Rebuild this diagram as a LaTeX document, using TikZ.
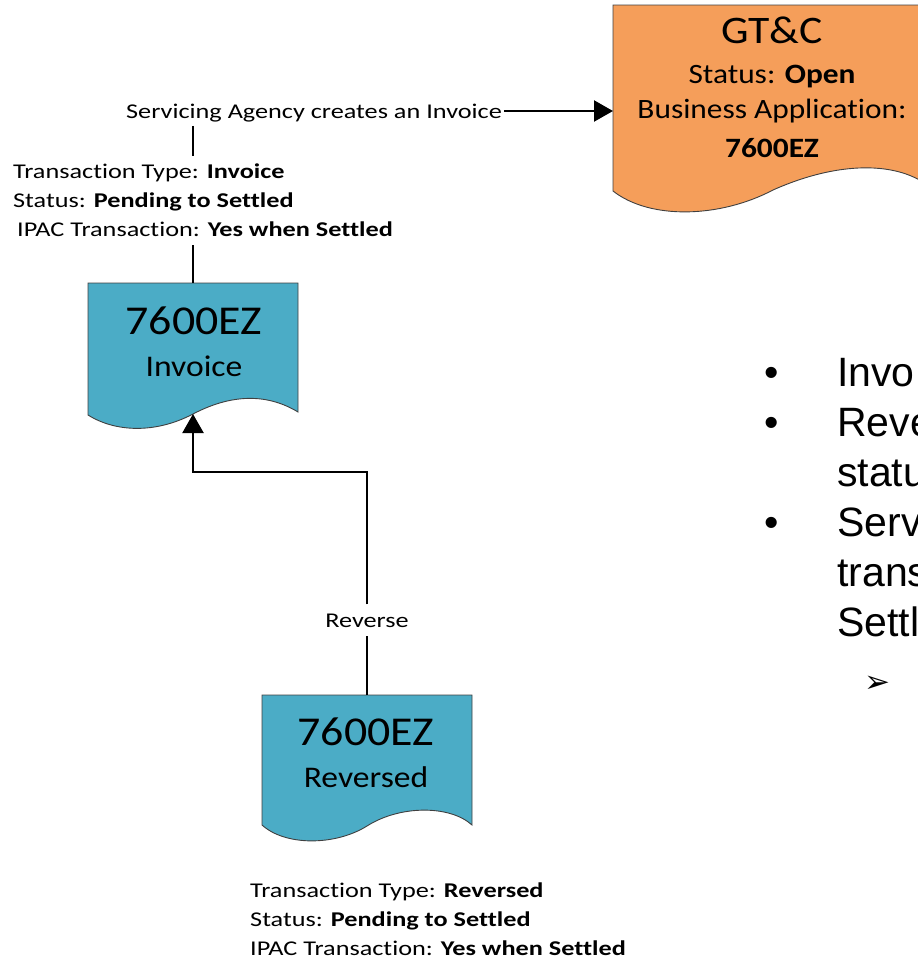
\documentclass[tikz,border=0pt]{standalone}
\usepackage{fontspec}
\setmainfont{Carlito}
\newfontfamily\labelfont[FakeStretch=1.25, Ligatures=NoCommon]{Carlito}
\newfontfamily\boxfont[FakeStretch=1.12, Ligatures=NoCommon]{Carlito}
\newfontfamily\bulletfont{Liberation Sans}
\newfontfamily\symfont{DejaVu Sans}
\usetikzlibrary{arrows.meta}

\definecolor{docorange}{HTML}{F59E5A}
\definecolor{docblue}{HTML}{4BACC6}

\tikzset{
  docshape/.style={draw=black!75, line width=0.9pt},
  flowline/.style={line width=2.2pt, black},
  tiphead/.style={-{Triangle[width=21pt,length=19pt]}},
  smalltext/.style={font=\labelfont\fontsize{21}{29}\selectfont, inner xsep=2pt, inner ysep=4pt},
  infotext/.style={font=\labelfont\fontsize{21}{29}\selectfont, align=left, inner xsep=0pt, inner ysep=8pt, anchor=north west},
  bigcode/.style={font=\boxfont\fontsize{41}{48}\selectfont, inner sep=0pt, anchor=base},
  boxsub/.style={font=\boxfont\fontsize{30}{36}\selectfont, inner sep=0pt, anchor=base},
  gtctitle/.style={font=\boxfont\fontsize{39}{46}\selectfont, inner sep=0pt, anchor=base},
  gtcline/.style={font=\boxfont\fontsize{28}{34}\selectfont, inner sep=0pt, anchor=base},
  bullettext/.style={font=\bulletfont\fontsize{41}{49}\selectfont, inner sep=0pt, anchor=base west},
  bulletdot/.style={font=\bulletfont\fontsize{41}{49}\selectfont, inner sep=0pt, anchor=base},
}

\begin{document}
\begin{tikzpicture}[x=1pt, y=-1pt]
\useasboundingbox (0,0) rectangle (918,964);
\clip (0,0) rectangle (918,964);

% GT&C document shape (runs past the right edge)
\path[docshape, fill=docorange]
  (613,5) -- (933,5) -- (933,190)
  .. controls (905,163) and (845,158) .. (773,190)
  .. controls (720,218) and (650,220) .. (613,191) -- cycle;
\node[gtctitle] (gtcT) at (772,43) {GT\&C};
\node[gtcline] (gtcS) at (772,83) {Status: \textbf{Open}};
\node[gtcline] (gtcB) at (772,118) {Business Application:};
\node[gtcline] (gtcC) at (772,157) {\textbf{7600EZ}};
\coordinate (gtcL) at (613,111);

% 7600EZ Invoice document shape
\path[docshape, fill=docblue]
  (88,283) -- (298,283) -- (298,412)
  .. controls (270,395) and (235,392) .. (193,414)
  .. controls (155,434) and (115,432) .. (88,415) -- cycle;
\node[bigcode] (invT) at (194,334) {7600EZ};
\node[boxsub] (invS) at (194,376) {Invoice};
\coordinate (invTop) at (193,283);
\coordinate (invBot) at (193,414);

% 7600EZ Reversed document shape
\path[docshape, fill=docblue]
  (262,695) -- (472,695) -- (472,825)
  .. controls (450,805) and (400,805) .. (367,826)
  .. controls (335,846) and (285,846) .. (262,825) -- cycle;
\node[bigcode] (revT) at (366,745) {7600EZ};
\node[boxsub] (revS) at (366,787) {Reversed};
\coordinate (revTop) at (367,695);
\coordinate (bend) at (193,472);

% Creation of the invoice
\node[smalltext, anchor=base] (svc) at (314,118) {Servicing Agency creates an Invoice};
\draw[flowline, tiphead] (svc.east |- gtcL) -- (gtcL);

\node[infotext] (invInfo) at (13,156)
  {Transaction Type: \textbf{Invoice}\\
   Status: \textbf{Pending to Settled}\\
   \hspace*{4pt}IPAC Transaction: \textbf{Yes when Settled}};
\draw[flowline] (svc.south -| invTop) -- (invInfo.north -| invTop);
\draw[flowline] (invInfo.south -| invTop) -- (invTop);

% Reversal
\node[smalltext, anchor=base, inner ysep=9pt] (rev) at (367,627) {Reverse};
\draw[flowline] (revTop) -- (rev.south);
\draw[flowline, tiphead] (rev.north) |- (bend) -- (invBot);

\node[infotext] (revInfo) at (250,875)
  {Transaction Type: \textbf{Reversed}\\
   Status: \textbf{Pending to Settled}\\
   IPAC Transaction: \textbf{Yes when Settled}};

% Bulleted notes
\node[bulletdot] (b1) at (772,386) {•};
\node[bulletdot] (b2) at (772,436) {•};
\node[bulletdot] (b3) at (772,536) {•};
\node[bullettext] (t1) at (837,386) {Invo};
\node[bullettext] (t2) at (837,436) {Reve};
\node[bullettext] (t3) at (837,486) {statu};
\node[bullettext] (t4) at (837,536) {Serv};
\node[bullettext] (t5) at (837,586) {trans};
\node[bullettext] (t6) at (837,636) {Settl};
\node[font=\symfont\fontsize{31}{36}\selectfont, inner sep=0pt] (b4) at (877,684) {➢};
\end{tikzpicture}
\end{document}
